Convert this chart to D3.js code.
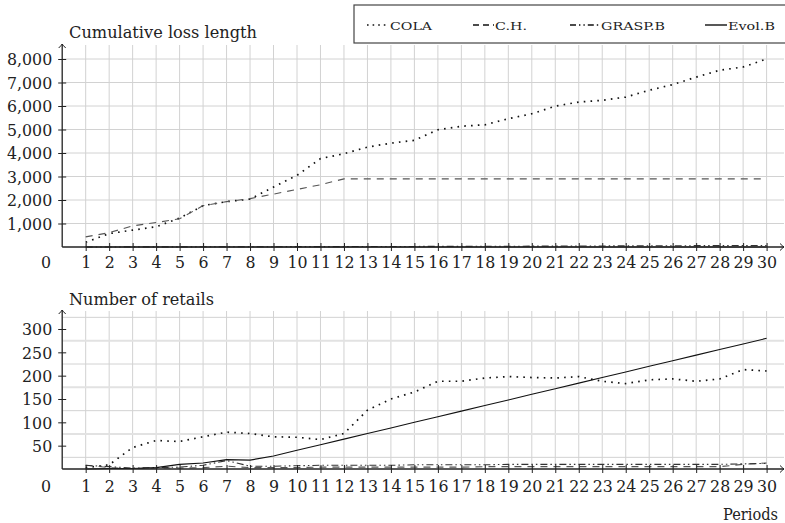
<!DOCTYPE html>
<html>
<head>
<meta charset="utf-8">
<script src="https://cdn.jsdelivr.net/npm/d3@7"></script>
<style>
  html, body { margin: 0; padding: 0; background: #fff; }
  svg { display: block; }
  text { font-family: "DejaVu Serif", serif; fill: #222; }
</style>
</head>
<body>
<svg id="chart" width="785" height="523"></svg>
<script>
// Periods on the horizontal axis
const periods = [1,2,3,4,5,6,7,8,9,10,11,12,13,14,15,16,17,18,19,20,21,22,23,24,25,26,27,28,29,30];

// Cumulative loss length per period
const lossCOLA  = [200,570,720,860,1230,1760,1930,2040,2550,3050,3760,3970,4250,4420,4540,4990,5140,5200,5460,5670,5990,6170,6240,6380,6670,6910,7230,7520,7660,8000];
const lossCH    = [430,610,900,1040,1200,1760,1930,2060,2250,2450,2650,2900,2900,2900,2900,2900,2900,2900,2900,2900,2900,2900,2900,2900,2900,2900,2900,2900,2900,2900];
const lossGRASP = [0,2,4,5,6,8,10,11,13,15,16,18,20,22,24,26,28,30,33,36,39,42,45,48,51,54,57,60,63,66];
const lossEvol  = [0,0,0,0,0,0,0,0,0,0,0,0,0,0,0,0,0,0,0,0,0,0,0,0,0,0,0,0,0,0];

// Number of retails per period
const retCOLA  = [3,9,46,61,59,69,79,76,69,68,63,76,126,150,165,188,188,195,198,196,195,198,188,183,191,193,188,193,213,210];
const retCH    = [8,3,1,2,2,3,6,3,3,3,4,4,4,4,4,4,4,5,5,5,5,5,5,5,5,5,5,5,10,13];
const retGRASP = [8,5,2,3,4,8,18,6,6,7,8,8,8,8,9,9,9,9,10,10,10,10,10,10,10,10,10,10,11,12];
const retEvol  = [0,1,1,3,10,13,20,19,28,40,52,64,76,88,100,112,124,136,148,160,172,184,196,208,220,232,244,256,268,280];

// Tick values
const lossTicks = [1000,2000,3000,4000,5000,6000,7000,8000];
const lossGrid  = [1000,2000,3000,4000,5000,6000,7000,8000];
const retTicks  = [50,100,150,200,250,300];
const retGrid   = [25,75,125,175,225,275,325];

const seriesNames = ["COLA", "C.H.", "GRASP.B", "Evol.B"];

const styles = {
  "COLA":    { dash: "1.6,5.2", width: 1.7, color: "#111" },
  "C.H.":    { dash: "7,6",     width: 1.1, color: "#555" },
  "GRASP.B": { dash: "7,3,1.5,3,1.5,3", width: 1.1, color: "#333" },
  "Evol.B":  { dash: null,      width: 1.1, color: "#111" }
};

const FF = "'DejaVu Serif', serif";
const FONT = 15.8;
const svg = d3.select("#chart");

const x = d3.scaleLinear().domain([0, 30]).range([62.2, 766.6]);
const xEnd = 784;

function panel(cfg) {
  const g = svg.append("g");
  const y = d3.scaleLinear().domain([0, cfg.ymax]).range([cfg.y0, cfg.yTop]);

  // grid
  g.append("g").selectAll("line").data(periods).join("line")
    .attr("x1", d => x(d)).attr("x2", d => x(d))
    .attr("y1", cfg.gridTop).attr("y2", cfg.y0)
    .attr("stroke", "#d2d2d2").attr("stroke-width", 1);
  g.append("g").selectAll("line").data(cfg.grid).join("line")
    .attr("x1", x(0)).attr("x2", xEnd)
    .attr("y1", d => y(d)).attr("y2", d => y(d))
    .attr("stroke", (d, i) => cfg.altGrid && i % 2 === 1 ? "#e2e2e2" : "#d2d2d2")
    .attr("stroke-width", (d, i) => cfg.altGrid && i % 2 === 1 ? 2 : 1);

  // series lines
  const line = vals => d3.line().x((d, i) => x(periods[i])).y(d => y(d))(vals);
  cfg.series.forEach((vals, k) => {
    const s = styles[seriesNames[k]];
    g.append("path").attr("d", line(vals))
      .attr("fill", "none").attr("stroke", s.color)
      .attr("stroke-width", s.width)
      .attr("stroke-dasharray", s.dash);
  });

  // x axis
  const xa = g.append("g").attr("transform", `translate(0,${cfg.y0})`)
    .call(d3.axisBottom(x).tickValues(periods).tickFormat(d3.format("d")).tickSize(4));
  xa.attr("font-family", FF).attr("font-size", FONT);
  xa.select(".domain").remove();
  xa.selectAll(".tick line").attr("y1", -4).attr("y2", 4).attr("stroke", "#222").attr("stroke-width", 1);
  xa.selectAll(".tick text").attr("y", cfg.xLabelOffset).attr("dy", null).attr("fill", "#222");

  // y axis
  const ya = g.append("g").attr("transform", `translate(${x(0)},0)`)
    .call(d3.axisLeft(y).tickValues(cfg.ticks).tickFormat(cfg.fmt).tickSize(4));
  ya.attr("font-family", FF).attr("font-size", FONT);
  ya.select(".domain").remove();
  ya.selectAll(".tick line").attr("x1", -4).attr("x2", 4).attr("stroke", "#222").attr("stroke-width", 1);
  ya.selectAll(".tick text").attr("x", -10).attr("dy", "0.36em").attr("fill", "#222");

  // axis lines with arrow heads
  g.append("line").attr("x1", x(0)).attr("x2", xEnd).attr("y1", cfg.y0).attr("y2", cfg.y0)
    .attr("stroke", "#222").attr("stroke-width", 1.3);
  g.append("line").attr("x1", x(0)).attr("x2", x(0)).attr("y1", cfg.y0).attr("y2", cfg.gridTop - 1)
    .attr("stroke", "#222").attr("stroke-width", 1.3);
  g.append("path")
    .attr("d", `M${xEnd - 4},${cfg.y0 - 3.5} Q${xEnd - 1.5},${cfg.y0 - 1} ${xEnd},${cfg.y0} Q${xEnd - 1.5},${cfg.y0 + 1} ${xEnd - 4},${cfg.y0 + 3.5}`)
    .attr("fill", "none").attr("stroke", "#222").attr("stroke-width", 1);
  const ax = x(0), at = cfg.gridTop - 1;
  g.append("path")
    .attr("d", `M${ax - 3.5},${at + 4} Q${ax - 1},${at + 1.5} ${ax},${at} Q${ax + 1},${at + 1.5} ${ax + 3.5},${at + 4}`)
    .attr("fill", "none").attr("stroke", "#222").attr("stroke-width", 1);

  // origin label
  g.append("text").attr("x", 46).attr("y", cfg.y0 + cfg.xLabelOffset)
    .attr("text-anchor", "middle").attr("font-family", FF).attr("font-size", FONT).text("0");

  // title
  g.append("text").attr("x", 69).attr("y", cfg.titleY)
    .attr("font-family", FF).attr("font-size", FONT)
    .attr("textLength", cfg.titleLen).attr("lengthAdjust", "spacingAndGlyphs")
    .text(cfg.title);
}

panel({
  y0: 247, yTop: 59, ymax: 8000, gridTop: 45,
  grid: lossGrid, ticks: lossTicks, fmt: d3.format(","),
  series: [lossCOLA, lossCH, lossGRASP, lossEvol],
  xLabelOffset: 21, title: "Cumulative loss length", titleY: 38, titleLen: 188
});

panel({
  y0: 469, yTop: 329, ymax: 300, gridTop: 311,
  grid: retGrid, ticks: retTicks, fmt: d3.format("d"), altGrid: true,
  series: [retCOLA, retCH, retGRASP, retEvol],
  xLabelOffset: 22.5, title: "Number of retails", titleY: 305, titleLen: 145
});

// x axis title
svg.append("text").attr("x", 778).attr("y", 520).attr("text-anchor", "end")
  .attr("font-family", FF).attr("font-size", FONT)
  .attr("textLength", 55).attr("lengthAdjust", "spacingAndGlyphs").text("Periods");

// legend
const lg = svg.append("g");
lg.append("rect").attr("x", 354).attr("y", 5).attr("width", 440).attr("height", 38)
  .attr("fill", "#fff").attr("stroke", "#444").attr("stroke-width", 1.2);
const legendItems = [
  { name: "COLA",    x1: 367, x2: 389, tx: 390, tl: 42, dash: "1.6,4" },
  { name: "C.H.",    x1: 473, x2: 494, tx: 495, tl: 32, dash: "6,4" },
  { name: "GRASP.B", x1: 570, x2: 600, tx: 601, tl: 64, dash: "6,3,1.4,3,1.4,3" },
  { name: "Evol.B",  x1: 705, x2: 727, tx: 728, tl: 47, dash: null }
];
legendItems.forEach(it => {
  lg.append("line").attr("x1", it.x1).attr("x2", it.x2).attr("y1", 25).attr("y2", 25)
    .attr("stroke", "#111").attr("stroke-width", it.name === "COLA" ? 1.7 : 1.4)
    .attr("stroke-dasharray", it.dash);
  lg.append("text").attr("x", it.tx).attr("y", 29.5)
    .attr("font-family", FF).attr("font-size", 10.5)
    .attr("textLength", it.tl).attr("lengthAdjust", "spacingAndGlyphs")
    .text(it.name);
});
</script>
</body>
</html>
